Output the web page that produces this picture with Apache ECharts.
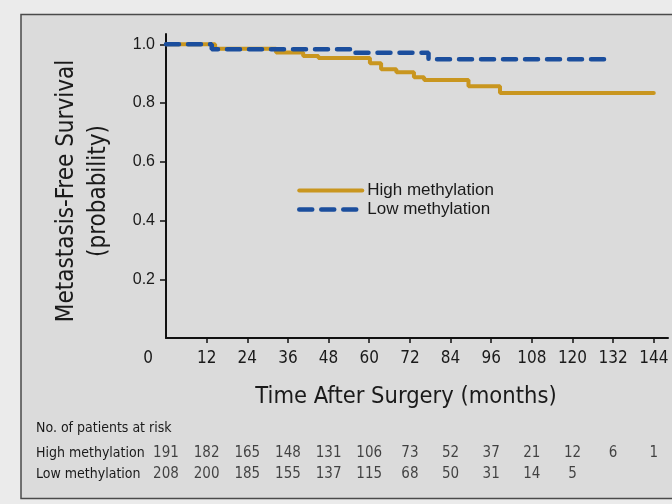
<!DOCTYPE html>
<html>
<head>
<meta charset="utf-8">
<script src="https://cdn.jsdelivr.net/npm/echarts@6/dist/echarts.min.js"></script>
<style>
  html, body { margin: 0; padding: 0; background: #ebebeb; }
  #chart { width: 672px; height: 504px; }
</style>
</head>
<body>
<div id="chart"></div>
<script>
// Kaplan-Meier step points: time (months) and survival probability after each event
const highTime = [0, 14.5, 32.5, 40.5, 45, 60.2, 63.5, 68, 73.2, 76.2, 89.3, 98.6, 144];
const highSurv = [1.0, 0.985, 0.972, 0.960, 0.953, 0.935, 0.915, 0.905, 0.888, 0.878, 0.857, 0.834, 0.834];
const lowTime = [0, 13.5, 55.5, 77.5, 131];
const lowSurv = [1.0, 0.983, 0.971, 0.949, 0.949];

// Tick positions
const xTicks = [0, 12, 24, 36, 48, 60, 72, 84, 96, 108, 120, 132, 144];
const yTicks = [0.2, 0.4, 0.6, 0.8, 1.0];

// Number at risk table
const riskGroups = ['High methylation', 'Low methylation'];
const riskTimes = [0, 12, 24, 36, 48, 60, 72, 84, 96, 108, 120, 132, 144];
const riskHigh = [191, 182, 165, 148, 131, 106, 73, 52, 37, 21, 12, 6, 1];
const riskLow = [208, 200, 185, 155, 137, 115, 68, 50, 31, 14, 5];

const ORANGE = '#c9961f';
const BLUE = '#1b4e9d';
const INK = '#1a1a1a';
const NARROW = '"Liberation Sans Narrow", "DejaVu Sans Condensed", "Liberation Sans", sans-serif';
const SANS = '"Liberation Sans", Arial, sans-serif';

const highLine = { color: ORANGE, width: 4, cap: 'round' };
const lowLine = { color: BLUE, width: 4.5, type: [13, 9], cap: 'round' };

const zip = (a, b) => a.map((v, i) => [v, b[i]]);
const riskData = [];
riskHigh.forEach((n, i) => riskData.push([riskTimes[i], riskGroups[0], n]));
riskLow.forEach((n, i) => riskData.push([riskTimes[i], riskGroups[1], n]));

const chart = echarts.init(document.getElementById('chart'), null, { renderer: 'canvas' });
chart.setOption({
  animation: false,
  backgroundColor: 'transparent',
  graphic: [
    { type: 'rect', z: -10, shape: { x: 21, y: 14.5, width: 700, height: 484 },
      style: { fill: '#dbdbdb', stroke: '#4a4a4a', lineWidth: 1.5 } },
    { type: 'text', left: 36, top: 421,
      style: { text: 'No. of patients at risk', font: '14px ' + NARROW, fill: INK } }
  ],
  grid: [
    { left: 166, right: 4, top: 34, height: 304 },
    { left: 166, right: 4, top: 443, height: 42 }
  ],
  legend: {
    left: 297, top: 182, orient: 'vertical', padding: 0,
    itemWidth: 63, itemHeight: 14, itemGap: 2,
    data: [
      { name: 'High methylation', itemStyle: { opacity: 0 }, lineStyle: highLine },
      { name: 'Low methylation', itemStyle: { opacity: 0 }, lineStyle: lowLine }
    ],
    textStyle: { fontFamily: SANS, fontSize: 17, color: INK }
  },
  xAxis: [
    {
      gridIndex: 0, type: 'value', min: 0, max: 148.2,
      name: 'Time After Surgery (months)', nameLocation: 'middle', nameGap: 47,
      nameTextStyle: { fontFamily: NARROW, fontSize: 23.5, color: INK, padding: [0, 22, 0, 0] },
      splitLine: { show: false },
      axisLine: { lineStyle: { color: '#111', width: 2 } },
      axisTick: { length: 5, inside: false, lineStyle: { color: '#111', width: 1.5 }, customValues: xTicks.slice(1) },
      axisLabel: {
        customValues: xTicks, margin: 12, fontFamily: NARROW, fontSize: 17, color: INK,
        formatter: v => v === 0 ? '{z|0}' : String(v),
        rich: { z: { fontFamily: NARROW, fontSize: 17, color: INK, padding: [0, 36, 0, 0] } }
      }
    },
    {
      gridIndex: 1, type: 'value', min: 0, max: 148.2,
      axisLine: { show: false }, axisTick: { show: false }, axisLabel: { show: false }, splitLine: { show: false }
    }
  ],
  yAxis: [
    {
      gridIndex: 0, type: 'value', min: 0, max: 1.035,
      name: 'Metastasis-Free Survival\n(probability)', nameLocation: 'middle', nameGap: 51,
      nameTextStyle: { fontFamily: NARROW, fontSize: 24, color: INK, lineHeight: 32, padding: [0, 10, 0, 0] },
      splitLine: { show: false },
      axisLine: { lineStyle: { color: '#111', width: 2 } },
      axisTick: { length: 6, lineStyle: { color: '#111', width: 1.5 }, customValues: yTicks },
      axisLabel: {
        customValues: yTicks, margin: 11, fontFamily: SANS, fontSize: 16, color: INK,
        formatter: v => v.toFixed(1)
      }
    },
    {
      gridIndex: 1, type: 'category', inverse: true, data: riskGroups,
      axisLine: { show: false }, axisTick: { show: false }, splitLine: { show: false },
      axisLabel: { align: 'left', margin: 130, fontFamily: NARROW, fontSize: 14, color: INK }
    }
  ],
  series: [
    {
      name: 'High methylation', type: 'line', step: 'end', xAxisIndex: 0, yAxisIndex: 0,
      showSymbol: false, symbol: 'none', data: zip(highTime, highSurv),
      lineStyle: highLine, itemStyle: { color: ORANGE }
    },
    {
      name: 'Low methylation', type: 'line', step: 'end', xAxisIndex: 0, yAxisIndex: 0,
      showSymbol: false, symbol: 'none', data: zip(lowTime, lowSurv),
      lineStyle: lowLine, itemStyle: { color: BLUE }
    },
    {
      type: 'scatter', xAxisIndex: 1, yAxisIndex: 1, symbolSize: 0, silent: true,
      data: riskData,
      label: {
        show: true, position: 'inside', formatter: p => String(p.value[2]),
        fontFamily: NARROW, fontSize: 15, color: INK
      }
    }
  ]
});
</script>
</body>
</html>
